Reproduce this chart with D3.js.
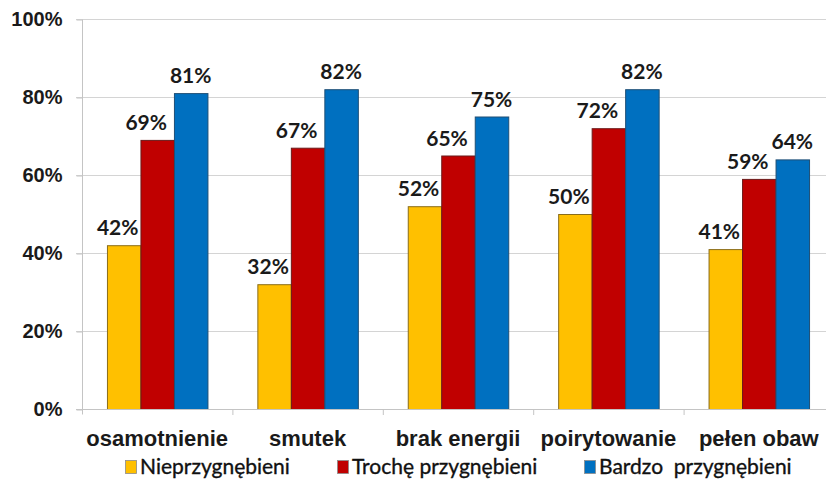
<!DOCTYPE html>
<html>
<head>
<meta charset="utf-8">
<script src="https://cdn.jsdelivr.net/npm/d3@7"></script>
<style>
  body { margin: 0; background: #fff; }
  svg { display: block; font-family: Lato, "Open Sans", sans-serif; }
</style>
</head>
<body>
<svg id="chart" width="826" height="497"></svg>
<script>
// Objawy depresyjne wg grup
const categories = ["osamotnienie", "smutek", "brak energii", "poirytowanie", "pełen obaw"];
const seriesNames = ["Nieprzygnębieni", "Trochę przygnębieni", "Bardzo  przygnębieni"];
const nieprzygnebieni = [42, 32, 52, 50, 41];
const trochePrzygnebieni = [69, 67, 65, 72, 59];
const bardzoPrzygnebieni = [81, 82, 75, 82, 64];
const seriesColors = ["#FFC000", "#C00000", "#0070C0"];
const seriesStroke = ["#8a6d1a", "#6b1a1a", "#1f4f75"];
const yTicks = [0, 20, 40, 60, 80, 100];

const seriesValues = [nieprzygnebieni, trochePrzygnebieni, bardzoPrzygnebieni];
// labels of the two lower series sit slightly left so they clear the taller neighbour
const labelShift = [-6, -11, 0];

const svg = d3.select("#chart");
const margin = { left: 82, right: -8, top: 19, bottom: 88 };
const W = 826, H = 497;

const x = d3.scaleBand()
  .domain(categories)
  .range([margin.left, W - margin.right])
  .padding(0);

const xs = d3.scaleBand()
  .domain(d3.range(seriesNames.length))
  .range([0, x.bandwidth()])
  .paddingInner(0)
  .paddingOuter(0.745);

const y = d3.scaleLinear().domain([0, 100]).range([H - margin.bottom, margin.top]);

// gridlines
svg.append("g")
  .selectAll("line")
  .data(yTicks.filter(d => d > 0))
  .join("line")
  .attr("x1", margin.left - 6)
  .attr("x2", W)
  .attr("y1", d => y(d) + 0.5)
  .attr("y2", d => y(d) + 0.5)
  .attr("stroke", "#d4d4d4")
  .attr("stroke-width", 1.2);

// y axis
const yAxis = d3.axisLeft(y)
  .tickValues(yTicks)
  .tickFormat(d => d + "%")
  .tickSize(6)
  .tickPadding(14);
const gy = svg.append("g")
  .attr("transform", `translate(${margin.left + 0.5},0.5)`)
  .call(yAxis);
gy.select(".domain").attr("stroke", "#c4c4c4").attr("d", `M0,${y(100)}V${y(0) + 5}`);
gy.selectAll(".tick line").attr("stroke", "#c4c4c4");
gy.selectAll(".tick text")
  .attr("fill", "#1a1a1a")
  .style("font-size", "20px")
  .style("font-weight", "700");

// bars
const groups = svg.append("g")
  .selectAll("g")
  .data(categories)
  .join("g")
  .attr("transform", d => `translate(${x(d)},0)`);

groups.selectAll("rect")
  .data((c, i) => seriesValues.map((vals, s) => ({ s, v: vals[i] })))
  .join("rect")
  .attr("x", d => xs(d.s) + 0.5)
  .attr("width", xs.bandwidth())
  .attr("y", d => y(d.v) + 0.5)
  .attr("height", d => y(0) - y(d.v))
  .attr("fill", d => seriesColors[d.s])
  .attr("stroke", d => seriesStroke[d.s])
  .attr("stroke-width", 1);

// value labels
groups.selectAll("text")
  .data((c, i) => seriesValues.map((vals, s) => ({ s, v: vals[i] })))
  .join("text")
  .attr("x", d => xs(d.s) + xs.bandwidth() / 2 + labelShift[d.s])
  .attr("y", d => y(d.v) - 10)
  .attr("text-anchor", "middle")
  .attr("fill", "#1a1a1a")
  .style("font-size", "21px")
  .style("font-weight", "700")
  .text(d => d.v + "%");

// x axis
const xAxis = d3.axisBottom(x).tickSize(0).tickPadding(21);
const gx = svg.append("g")
  .attr("transform", `translate(0,${y(0) + 0.5})`)
  .call(xAxis);
gx.select(".domain").attr("stroke", "#c4c4c4").attr("d", `M${margin.left - 6},0H${W}`);
gx.selectAll(".tick text")
  .attr("fill", "#1a1a1a")
  .style("font-size", "22px")
  .style("font-weight", "700");

// category separators
svg.append("g")
  .selectAll("line")
  .data(categories.slice(1))
  .join("line")
  .attr("x1", d => x(d) + 0.5)
  .attr("x2", d => x(d) + 0.5)
  .attr("y1", y(0))
  .attr("y2", y(0) + 6)
  .attr("stroke", "#c4c4c4");

// legend
const legendX = [125, 337, 584];
const legend = svg.append("g").attr("transform", "translate(0,467)");
const li = legend.selectAll("g")
  .data(seriesNames)
  .join("g")
  .attr("transform", (d, i) => `translate(${legendX[i]},0)`);
li.append("rect")
  .attr("x", 0.5).attr("y", -6.5)
  .attr("width", 11).attr("height", 13)
  .attr("fill", (d, i) => seriesColors[i])
  .attr("stroke", "#8c8c8c")
  .attr("stroke-width", 0.8);
li.append("text")
  .attr("x", 15)
  .attr("y", 7)
  .attr("fill", "#111")
  .attr("stroke", "#111")
  .attr("stroke-width", 0.35)
  .style("font-size", "21px")
  .style("font-weight", "400")
  .style("white-space", "pre")
  .text(d => d);
</script>
</body>
</html>
